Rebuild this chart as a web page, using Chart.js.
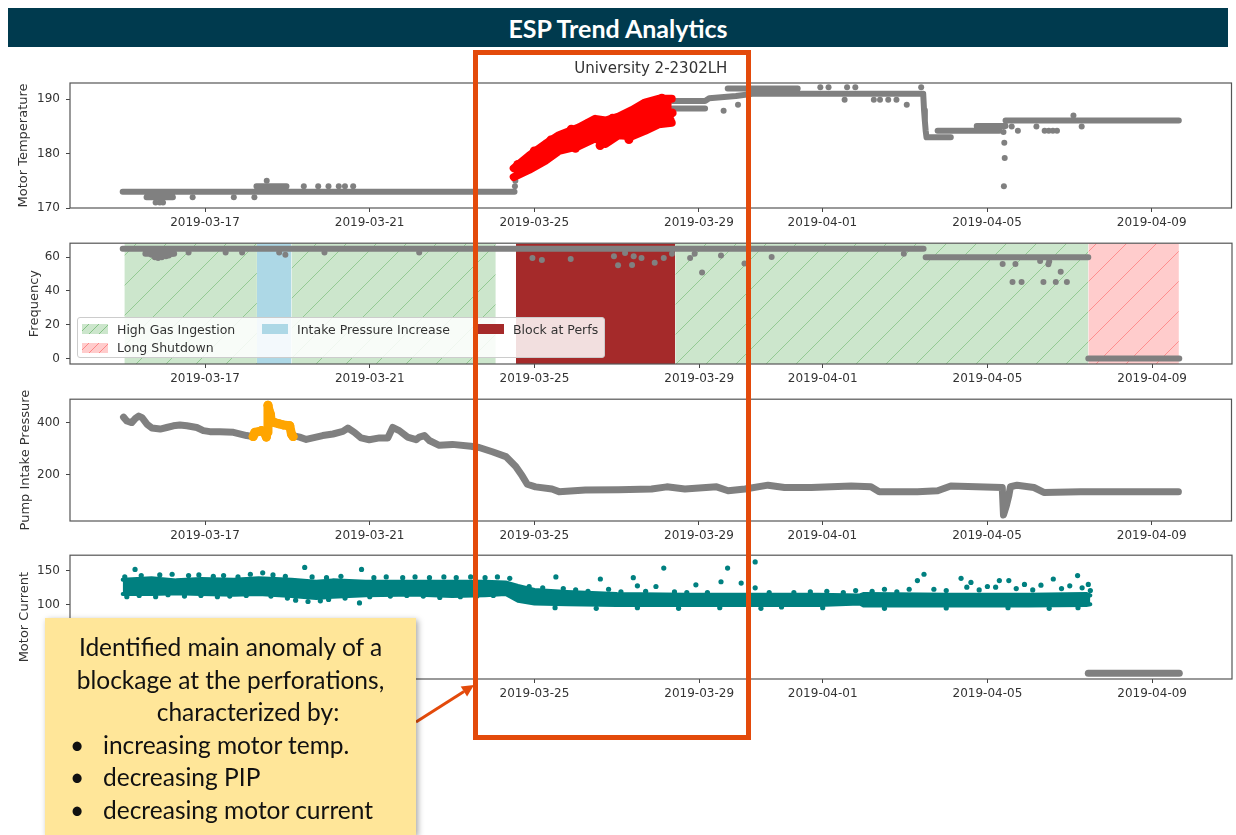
<!DOCTYPE html>
<html>
<head>
<meta charset="utf-8">
<title>ESP Trend Analytics</title>
<script src="https://cdn.jsdelivr.net/npm/chart.js@4.4.1/dist/chart.umd.min.js"></script>
<style>
  html, body { margin: 0; padding: 0; background: #fff; }
  body { width: 1236px; height: 835px; position: relative; overflow: hidden; font-family: 'DejaVu Sans', sans-serif; }
  #banner { position: absolute; left: 8px; top: 8px; width: 1220px; height: 39px; background: #003a4e; color: #fff;
    font: bold 25px Lato, sans-serif; text-align: center; line-height: 40px; }
  canvas { position: absolute; left: 0; }
  #legend { position: absolute; left: 77px; top: 317px; width: 528px; height: 41px; box-sizing: border-box;
    background: rgba(255,255,255,0.85); border: 1px solid #ccc; border-radius: 3px;
    display: grid; grid-template-columns: 180px 216px 120px; grid-auto-rows: 18.4px; padding: 2px 0 0 4px; }
  #legend .item { display: flex; align-items: center; font-size: 12.5px; color: #333; white-space: nowrap; }
  #legend .sw { width: 26px; height: 10px; margin-right: 9px; flex: none; }
  #focus { position: absolute; left: 473px; top: 50px; width: 268px; height: 680px; border: 5px solid #e34a0b; }
  #callout { position: absolute; left: 45px; top: 618px; width: 371px; height: 217px; background: #ffe699;
    box-shadow: 2px 2px 6px rgba(0,0,0,0.35); font: 24.5px Lato, sans-serif; color: #111; box-sizing: border-box; padding-top: 13px; }
  #callout div { height: 32.5px; line-height: 32.5px; white-space: nowrap; }
  #callout .c { text-align: center; }
  #callout .b { padding-left: 25px; }
  #callout .b span { display: inline-block; width: 33px; }
  #arrow { position: absolute; left: 0; top: 0; }
</style>
</head>
<body>
<div id="banner">ESP Trend Analytics</div>
<canvas id="cTemp" width="1236" height="183" style="top:55px"></canvas>
<canvas id="cFreq" width="1236" height="164" style="top:230px"></canvas>
<canvas id="cPip" width="1236" height="165" style="top:386px"></canvas>
<canvas id="cCur" width="1236" height="167" style="top:542px"></canvas>
<div id="legend"></div>
<div id="focus"></div>
<svg id="arrow" width="1236" height="835">
  <line x1="416" y1="722" x2="464" y2="691.5" stroke="#e34a0b" stroke-width="3"/>
  <polygon points="474,685 467.1,696.6 460.7,686.4" fill="#e34a0b"/>
</svg>
<div id="callout">
  <div class="c">Identified main anomaly of a</div>
  <div class="c">blockage at the perforations,</div>
  <div class="c" style="padding-left:35px">characterized by:</div>
  <div class="b"><span>•</span>increasing motor temp.</div>
  <div class="b"><span>•</span>decreasing PIP</div>
  <div class="b"><span>•</span>decreasing motor current</div>
</div>
<script>
// x values are days counted from 2019-03-01
const tickDays = [16, 20, 24, 28, 31, 35, 39];
const tickLabels = ['2019-03-17', '2019-03-21', '2019-03-25', '2019-03-29', '2019-04-01', '2019-04-05', '2019-04-09'];

// Motor temperature
const tempLines = [[14.0,173],[23.52,173],[null,null],
  [14.58,172],[15.22,172],[null,null],
  [17.25,174],[17.98,174],[null,null],
  [27.36,188.3],[28.15,188.3],[null,null],
  [27.36,189.7],[28.15,189.7],[28.25,190.2],[28.9,190.6],[29.3,191],[33.45,191],[null,null],
  [28.7,192],[30.4,192],[null,null],
  [33.45,191],[33.47,188],[33.49,186],[33.51,184.2],[33.53,183],[34.12,183],[null,null],
  [33.8,184.2],[35.3,184.2],[null,null],
  [34.75,185.1],[35.45,185.1],[null,null],
  [35.45,186.1],[39.66,186.1]];
const tempPoints = [[14.8,171],[14.9,171],[14.98,171],[15.7,172],[16.7,172],[17.2,172],[17.5,175],
  [18.4,174],[18.75,174],[19.0,174],[19.25,174],[19.4,174],[19.6,174],[23.53,174],[23.54,175],
  [28.6,187.9],[28.95,189],[30.95,192.2],[31.15,192.2],[31.54,189.9],[31.6,192.2],[31.8,192.2],
  [32.25,189.9],[32.4,189.9],[32.6,189.9],[32.8,189.9],[33.05,189],[33.4,192.2],
  [35.4,184],[35.42,182],[35.43,179.2],[35.41,174],[35.6,185],[35.75,184.2],[36.2,185],
  [36.4,184.2],[36.5,184.2],[36.6,184.2],[36.7,184.2],[37.1,187],[37.3,185]];
// red band: [day, upper, lower]
const tempRedBand = [[23.50,177.3,175.7],[23.87,179.6,177.0],[24.27,181.8,178.7],[24.6,183.4,180.5],
  [25.08,184.8,181.4],[25.48,186.4,182.8],[25.73,186.1,181.8],[26.05,186.8,183.4],[26.37,188.0,183.2],
  [26.69,189.4,184.2],[27.02,190.1,185.4],[27.34,190.1,185.7]];
const tempRedPoints = [[23.6,178],[24.0,180.5],[24.4,182.5],[24.9,184.5],[25.3,185.5],[25.6,181.5],
  [25.9,186.5],[26.2,185],[26.5,188],[26.8,189],[27.1,190.2],[27.3,186.2],[27.35,187.5],[26.3,182.6],[25.0,181]];

// Frequency
const freqLines = [[14.0,65],[33.45,65],[null,null],[33.5,60],[37.45,60],[null,null],
  [37.45,0],[39.66,0],[null,null],[14.55,62],[15.25,62]];
const freqPoints = [[14.62,63.5],[14.7,61.5],[14.78,60],[14.86,59.6],[14.95,60],[15.05,60.5],[15.12,61],
  [15.2,62],[14.9,61.5],[15.0,62.5],[15.6,62.8],[16.5,62.8],[16.9,62.8],[17.8,62.8],[17.95,61.5],
  [18.9,62.8],[21.2,62.8],[23.95,59.6],[24.18,58.3],[24.88,59],[25.93,60.5],[26.03,55.2],[26.2,62.5],
  [26.37,55.4],[26.41,60.5],[26.6,59.6],[26.92,56.7],[27.14,59.6],[27.34,62],[27.78,59.6],[27.89,62],
  [28.07,51],[28.53,61],[29.1,56.3],[29.76,60.2],[32.97,62],[35.37,56],[35.68,56],[36.28,57.7],
  [36.48,55.8],[36.5,57.5],[36.78,51.4],[35.61,45.3],[35.83,45.3],[36.36,45.3],[36.66,45.3],[36.93,45.3]];
const spanGas = [[14.04,17.26],[18.10,23.06],[27.42,37.45]];
const spanIntake = [[17.26,18.10]];
const spanBlock = [[23.55,27.42]];
const spanShutdown = [[37.45,39.65]];

// Pump intake pressure
const pipGray = [[14.02,421],[14.10,406],[14.22,400],[14.31,416],[14.39,425],[14.47,419],[14.59,394],
  [14.71,379],[14.91,375],[15.07,381],[15.23,387.5],[15.39,391],[15.56,387.5],[15.80,381],[15.96,369],
  [16.12,365],[16.36,365],[16.69,362.5],[17.01,350],[17.17,346],[null,null],
  [18.14,350],[18.30,344],[18.46,335],[18.62,341],[18.86,350],[19.11,356],[19.35,366],[19.47,379],
  [19.63,362.5],[19.79,341],[19.99,334],[20.24,341],[20.44,341],[20.56,381],[20.72,369],[20.92,344],
  [21.13,334],[21.21,344],[21.33,350],[21.45,331],[21.69,312.5],[22.01,316],[22.46,309],[22.66,304],
  [22.98,287.5],[23.31,269],[23.55,231],[23.71,194],[23.83,162.5],[24.03,152.5],[24.43,144],[24.6,134],
  [25.24,140],[26.05,141],[26.85,144],[27.22,152.5],[27.66,144],[28.43,152.5],[28.71,137.5],[29.12,144],
  [29.68,159],[30.08,150],[30.73,150],[31.7,156],[32.18,152.5],[32.38,134],[33.31,134],[33.8,137.5],
  [34.12,156],[35.37,150],[35.40,44],[35.47,80],[35.53,119],[35.57,153],[35.73,159],[36.14,150],
  [36.38,131],[37.27,134],[39.65,134]];
const pipOrange = [[17.17,346],[17.21,362.5],[17.3,365],[17.37,369],[17.45,360],[17.49,344],[17.51,362],
  [17.53,467],[17.56,445],[17.59,431],[17.61,406],[17.69,400],[17.8,395],[17.9,391],[18.0,389],
  [18.06,387.5],[18.1,356],[18.14,346]];

// Motor current: core band [day, upper, lower] plus scattered readings
const curBand = [[14.0,137,116],[14.7,139,116],[15.3,136,117],[15.9,138,116],[16.7,137,115],[17.3,139,116],
  [18.1,137,113],[18.7,134,110],[19.1,136,112],[19.9,134,114],[20.7,134,115],[21.2,134,115],[22.0,134,113],
  [22.8,134,114],[23.3,133,116],[23.6,128,106],[24.0,122,102],[24.8,119,101],[26.0,116,100],[27.7,115,100],
  [29.3,115,100],[30.9,115,100],[31.9,114,102],[32.0,116,99],[34.1,115,99],[36.0,115,99],[37.4,116,100],
  [37.5,114,101]];
const curPoints = [[14.05,141],[14.3,152],[14.45,143],[14.9,144],[15.2,145],[15.6,143],[15.85,144],[16.2,142],
  [16.45,143],[16.8,141],[17.1,145],[17.4,147],[17.65,144],[17.95,142],[18.42,155],[18.6,141],[18.95,140],
  [19.3,142],[19.8,152],[20.1,140],[20.4,141],[20.8,140],[21.1,141],[21.45,140],[21.8,141],[22.1,140],
  [22.45,141],[22.8,140],[23.1,141],[23.4,139],
  [14.1,112],[14.4,114],[14.8,112],[15.1,115],[15.5,113],[15.9,114],[16.3,112],[16.6,113],[17.0,114],
  [17.6,113],[18.0,110],[18.2,107],[18.5,105],[18.8,106],[19.0,108],[19.4,110],[19.75,103],[20.0,112],
  [20.5,113],[20.9,114],[21.3,113],[21.7,111],[22.2,112],[22.6,113],[23.0,114],[23.5,112],
  [23.87,127],[24.2,125],[24.52,141],[24.7,124],[25.0,122],[25.3,120],[25.6,138],[25.8,123],[26.1,119],
  [26.4,140],[26.5,128],[26.7,120],[26.95,127],[27.14,154],[27.4,119],[27.7,118],[27.92,129.5],[28.2,118],
  [28.53,134],[28.69,154],[29.02,132],[29.36,163],[29.36,125],[29.7,118],[30.3,118],[30.7,119],[31.1,120],
  [31.5,118],[31.8,121],[32.2,120],[32.5,123],[32.8,119],[33.1,123],[33.3,135.7],[33.46,145],[33.7,123],
  [34.0,121],[34.36,139],[34.5,126],[34.6,133],[34.8,122],[35.0,127],[35.2,126],[35.29,135.7],[35.52,135.7],
  [35.7,124],[35.9,130],[36.1,122],[36.3,129],[36.6,138],[36.8,124],[37.0,128],[37.19,143],[37.3,125],
  [37.45,130],[37.5,121],
  [24.5,96],[25.5,95],[26.5,96],[27.5,95],[28.5,96],[29.5,95],[30.0,97],[31.0,96],[32.5,95],[34.0,95.5],
  [35.5,96],[36.5,95],[37.2,96]];
const curOff = [[37.45,0],[39.66,0]];

const XMIN = 12.72, XMAX = 40.94;
const FREQ_MIN = -3.25, FREQ_MAX = 68.3;
const GRAY = '#808080', TEAL = '#008080', RED = '#ff0000', ORANGE = '#ffa500';

Chart.defaults.font.family = "'DejaVu Sans', sans-serif";
Chart.defaults.font.size = 12;
Chart.defaults.color = '#333';

const xy = arr => arr.map(p => ({ x: p[0], y: p[1] }));
const upper = arr => arr.map(p => ({ x: p[0], y: p[1] }));
const lower = arr => arr.map(p => ({ x: p[0], y: p[2] }));

function hatch(bg, line) {
  const c = document.createElement('canvas');
  c.width = c.height = 30;
  const g = c.getContext('2d');
  g.fillStyle = bg; g.fillRect(0, 0, 30, 30);
  if (line) {
    g.strokeStyle = line; g.lineWidth = 1;
    g.beginPath();
    g.moveTo(-2, 32); g.lineTo(32, -2);
    g.moveTo(-2, 2); g.lineTo(2, -2);
    g.moveTo(28, 32); g.lineTo(32, 28);
    g.stroke();
  }
  return g.createPattern(c, 'repeat');
}

function lineSet(data, color, width, order) {
  return { data, showLine: true, borderColor: color, borderWidth: width, borderCapStyle: 'round',
    borderJoinStyle: 'round', pointRadius: 0, spanGaps: false, fill: false, order };
}
function pointSet(data, color, r, order) {
  return { data, showLine: false, pointRadius: r, pointBackgroundColor: color, pointBorderWidth: 0,
    pointBorderColor: color, order };
}

const frame = {
  id: 'frame',
  afterDatasetsDraw(chart) {
    const a = chart.chartArea, ctx = chart.ctx;
    ctx.save();
    ctx.strokeStyle = '#555'; ctx.lineWidth = 1.2;
    ctx.strokeRect(a.left, a.top, a.right - a.left, a.bottom - a.top);
    ctx.restore();
  }
};

function panel(id, o) {
  return new Chart(document.getElementById(id), {
    type: 'line',
    data: { datasets: o.datasets },
    plugins: [frame],
    options: {
      responsive: false, devicePixelRatio: 1, animation: false, events: [],
      layout: { padding: { top: o.title ? 0 : 10, right: 3, left: 0, bottom: 0 } },
      plugins: {
        legend: { display: false },
        tooltip: { enabled: false },
        title: o.title
          ? { display: true, text: o.title, fullSize: false, color: '#333',
              font: { size: 15, weight: 'normal' }, padding: { top: 5, bottom: 5 } }
          : { display: false }
      },
      scales: {
        x: {
          type: 'linear', min: XMIN, max: XMAX,
          afterBuildTicks: s => { s.ticks = tickDays.map(v => ({ value: v })); },
          afterFit: s => { s.height = 30; },
          ticks: { callback: v => tickLabels[tickDays.indexOf(v)], maxRotation: 0, autoSkip: false, padding: 4 },
          grid: { drawOnChartArea: false, tickLength: 4, color: '#444' },
          border: { display: false }
        },
        y: {
          type: 'linear', min: o.yMin, max: o.yMax,
          afterBuildTicks: s => { s.ticks = o.yTicks.map(v => ({ value: v })); },
          afterFit: s => { s.width = 70; },
          ticks: { padding: 6 },
          grid: { drawOnChartArea: false, tickLength: 4, color: '#444' },
          border: { display: false },
          title: { display: true, text: o.yTitle, color: '#333', font: { size: 13 },
            padding: { top: o.titlePad, bottom: 0 } }
        }
      }
    }
  });
}

// Panel 1: motor temperature
panel('cTemp', {
  title: 'University 2-2302LH', yTitle: 'Motor Temperature', titlePad: 16,
  yMin: 170, yMax: 193, yTicks: [170, 180, 190],
  datasets: [
    pointSet(xy(tempRedPoints), RED, 4.5, 0),
    lineSet(upper(tempRedBand), RED, 8, 1),
    { ...lineSet(lower(tempRedBand), RED, 8, 1), fill: '-1', backgroundColor: RED },
    pointSet(xy(tempPoints), GRAY, 3, 2),
    lineSet(xy(tempLines), GRAY, 6, 3)
  ]
});

// Panel 2: frequency with event spans
const GAS = hatch('#cce6cc', 'rgba(0,128,0,0.28)');
const SHUT = hatch('#ffcccc', 'rgba(255,0,0,0.3)');
const spanSet = (span, fillStyle) => ({
  data: [{ x: span[0], y: FREQ_MAX }, { x: span[1], y: FREQ_MAX }],
  showLine: true, borderWidth: 0, pointRadius: 0, fill: 'start', backgroundColor: fillStyle, order: 10
});
panel('cFreq', {
  yTitle: 'Frequency', titlePad: 27,
  yMin: FREQ_MIN, yMax: FREQ_MAX, yTicks: [0, 20, 40, 60],
  datasets: [
    pointSet(xy(freqPoints), GRAY, 3, 0),
    lineSet(xy(freqLines), GRAY, 6, 1),
    ...spanGas.map(s => spanSet(s, GAS)),
    ...spanIntake.map(s => spanSet(s, '#add8e6')),
    ...spanBlock.map(s => spanSet(s, '#a52a2a')),
    ...spanShutdown.map(s => spanSet(s, SHUT))
  ]
});

// Legend for the spans
const legendItems = [
  ['High Gas Ingestion', '#cce6cc', 'rgba(0,128,0,0.35)'],
  ['Intake Pressure Increase', '#add8e6', null],
  ['Block at Perfs', '#a52a2a', null],
  ['Long Shutdown', '#ffcccc', 'rgba(255,0,0,0.35)']
];
document.getElementById('legend').innerHTML = legendItems.map(([label, bg, line]) => {
  const img = line ? `background-image:repeating-linear-gradient(-45deg, transparent 0 6px, ${line} 6px 7px);` : '';
  return `<div class="item"><span class="sw" style="background-color:${bg};${img}"></span>${label}</div>`;
}).join('');

// Panel 3: pump intake pressure
panel('cPip', {
  yTitle: 'Pump Intake Pressure', titlePad: 18,
  yMin: 21, yMax: 490, yTicks: [200, 400],
  datasets: [
    pointSet(xy(pipOrange), ORANGE, 4.5, 0),
    lineSet(xy(pipOrange), ORANGE, 9, 1),
    lineSet(xy(pipGray), GRAY, 7, 2)
  ]
});

// Panel 4: motor current
panel('cCur', {
  yTitle: 'Motor Current', titlePad: 17,
  yMin: -8.6, yMax: 172.9, yTicks: [0, 50, 100, 150],
  datasets: [
    pointSet(xy(curPoints), TEAL, 2.6, 0),
    lineSet(upper(curBand), TEAL, 4, 1),
    { ...lineSet(lower(curBand), TEAL, 4, 1), fill: '-1', backgroundColor: TEAL },
    lineSet(xy(curOff), GRAY, 7, 2)
  ]
});
</script>
</body>
</html>
